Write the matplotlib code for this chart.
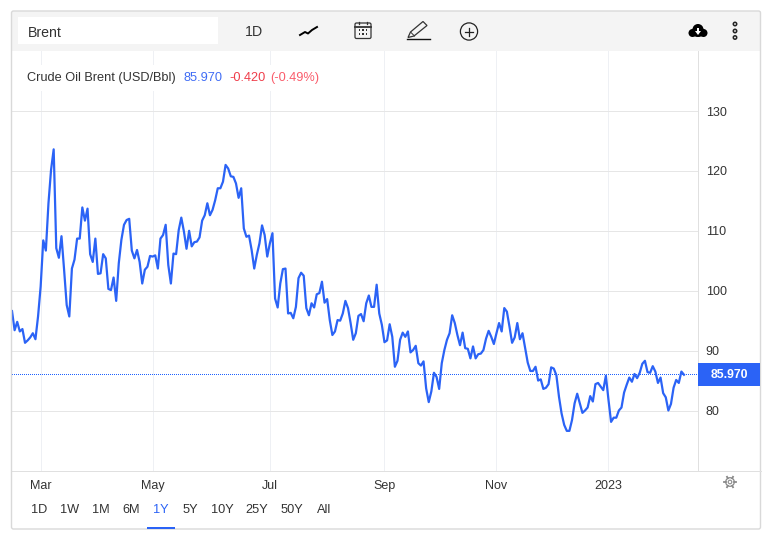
import matplotlib
matplotlib.use("Agg")
import matplotlib.pyplot as plt
from matplotlib.patches import Rectangle, Circle, FancyBboxPatch, Polygon, Ellipse
import numpy as np

plt.rcParams['font.family'] = ['Liberation Sans', 'DejaVu Sans']

# Brent daily close
prices = [
    96.6, 93.4, 94.8, 93.2, 93.6, 91.3, 91.7, 92.2, 92.9, 91.9, 95.7, 100.7, 108.4, 106.7, 114.6, 120.2,
    123.6, 107.1, 105.5, 109.1, 103.5, 97.6, 95.7, 103.7, 105.2, 108.7, 108.7, 113.9, 111.7, 113.7, 106.1, 104.8,
    108.7, 102.8, 102.9, 106.1, 105.4, 100.3, 100.1, 102.2, 98.3, 104.6, 108.5, 111.0, 111.8, 112.0, 106.7, 105.4,
    106.8, 104.8, 101.2, 103.5, 104.0, 105.8, 105.7, 105.9, 103.7, 108.7, 109.3, 111.0, 104.3, 101.2, 106.2, 106.1,
    110.1, 112.2, 109.9, 107.0, 110.0, 107.4, 108.1, 108.2, 108.9, 111.7, 112.6, 114.6, 112.6, 113.5, 115.1, 117.1,
    117.1, 118.2, 121.0, 120.4, 119.1, 119.0, 117.9, 115.5, 117.1, 110.4, 109.0, 109.2,
    106.8, 103.7, 106.0, 107.9, 110.9, 109.3, 105.7, 107.9, 109.6, 98.7, 97.2, 101.2, 103.6, 103.7, 96.2, 96.3,
    95.4, 97.3, 102.1, 103.0, 102.5, 97.1, 95.9, 97.9, 97.2, 99.4, 99.6, 101.5, 98.0, 98.6, 95.1, 92.6,
    93.2, 95.1, 95.0, 96.2, 98.3, 97.1, 94.6, 91.8, 92.9, 95.8, 96.1, 94.9, 97.9, 99.2, 97.3, 97.3,
    101.0, 96.2, 94.3, 91.4, 91.7, 94.4, 92.3, 87.3, 88.3, 91.8, 93.0, 92.3, 93.2, 89.7, 90.1, 90.8,
    87.9, 87.5, 88.2, 83.7, 81.4, 83.2, 86.3, 85.6, 83.6, 87.9, 90.1, 91.8, 92.9, 95.9, 94.6, 92.6,
    90.9, 93.0, 90.4, 90.3, 88.7, 90.7, 88.7, 89.4, 89.5, 90.1, 92.0, 93.3,
    92.3, 91.1, 92.9, 94.6, 93.2, 97.1, 96.5, 94.0, 91.3, 92.2, 94.6, 91.9, 92.9, 90.4, 88.0, 86.6,
    86.6, 87.3, 85.0, 85.2, 83.6, 83.8, 84.4, 87.2, 87.0, 85.9, 82.3, 79.5, 77.6, 76.6, 76.6, 78.4,
    81.2, 82.8, 81.2, 79.6, 80.0, 80.5, 82.4, 81.5, 84.4, 84.6, 84.0, 83.4, 85.8, 81.8, 78.1, 78.8,
    78.8, 80.0, 80.5, 83.0, 84.3, 85.5, 84.8, 86.1, 85.4, 86.3, 87.8, 88.3, 86.4, 86.3, 87.4, 86.5,
    84.6, 85.5, 82.9, 82.2, 80.0, 81.1, 83.8, 85.1, 84.6, 86.5, 85.97,
]
last_price = 85.97
y_ticks = [80, 90, 100, 110, 120, 130]
month_pos = [11, 54, 99, 143, 186, 229]
month_labels = ['Mar', 'May', 'Jul', 'Sep', 'Nov', '2023']
range_labels = ['1D', '1W', '1M', '6M', '1Y', '5Y', '10Y', '25Y', '50Y', 'All']
range_centers = [39, 70, 101, 131, 161, 190, 222, 257, 292, 324]

W, H = 771, 540
BLUE = '#2b63f6'
TEXT = '#333333'
PX = 0.72  # one pixel in points at dpi 100

fig = plt.figure(figsize=(W / 100, H / 100), dpi=100, facecolor='white')

# chart area, placed in pixels
L, R, T, B = 12, 698, 51, 470.5
ax = fig.add_axes([L / W, 1 - B / H, (R - L) / W, (B - T) / H])
step = (684 - L) / (len(prices) - 1)
ax.set_xlim(0, (R - L) / step)
ax.set_ylim(80 + (410.5 - B) / 5.99, 80 + (410.5 - T) / 5.99)

ax.plot(range(len(prices)), prices, color=BLUE, lw=1.6, solid_joinstyle='round', zorder=4)

# dotted last price line, one pixel on and one off
dots = np.arange(0, (R - L) / step, 2 / step)
ax.plot(dots, np.full(len(dots), last_price), ls='none', marker=',', color='#1f62ff', zorder=3)

ax.set_yticks(y_ticks)
ax.set_xticks(month_pos)
ax.set_xticklabels(month_labels)
ax.yaxis.tick_right()
ax.tick_params(axis='y', length=0, pad=5.5, labelsize=9, labelcolor=TEXT)
ax.tick_params(axis='x', length=0, pad=7, labelsize=9, labelcolor=TEXT)
ax.grid(axis='y', color='#e6e6e6', lw=PX, zorder=1)
ax.grid(axis='x', color='#eef0f4', lw=PX, zorder=1)
ax.set_axisbelow(True)
for side in ['top', 'left']:
    ax.spines[side].set_visible(False)
ax.spines['right'].set_color('#e0e0e0')
ax.spines['bottom'].set_color('#e0e0e0')
ax.spines['right'].set_linewidth(PX)
ax.spines['bottom'].set_linewidth(PX)

# overlay in pixel coordinates for the page furniture
ui = fig.add_axes([0, 0, 1, 1], facecolor='none')
ui.set_xlim(0, W)
ui.set_ylim(H, 0)
ui.axis('off')

ui.add_patch(Rectangle((11.5, 11), 749, 40, fc='#f4f4f4', ec='none'))
ui.add_patch(FancyBboxPatch((11.5, 11), 749, 518, boxstyle='round,pad=0,rounding_size=2',
                            fc='none', ec='#d9d9d9', lw=1))
ui.plot([R, 760.5], [B, B], color='#e0e0e0', lw=PX)
ui.add_patch(Rectangle((18, 17), 200, 27, fc='white', ec='none'))
ui.text(28, 33, 'Brent', fontsize=10.2, color=TEXT, va='center')
ui.text(254, 32.5, '1D', fontsize=10.2, color=TEXT, va='center', ha='center')

# chart type icon
ui.plot([300, 305, 308, 312, 317], [35, 32, 33.5, 30, 27], color='black', lw=1.4)

# calendar icon
ui.add_patch(FancyBboxPatch((355, 23), 16, 15.5, boxstyle='round,pad=0,rounding_size=1.5',
                            fc='none', ec='#333333', lw=0.9))
ui.plot([355, 371], [26.5, 26.5], color='#333333', lw=1.3)
ui.plot([359, 359], [21.5, 24], color='#333333', lw=0.9)
ui.plot([367, 367], [21.5, 24], color='#333333', lw=0.9)
for cx in [359.5, 363, 366.5]:
    for cy in [30, 34]:
        ui.add_patch(Rectangle((cx - 0.8, cy - 0.8), 1.6, 1.6, fc='#333333', ec='none'))

# pencil icon
ui.add_patch(Polygon([[408, 37.5], [410.5, 32], [423, 21.5], [427, 25.5], [414, 36]], closed=True,
                     fc='none', ec='#333333', lw=0.9))
ui.plot([407, 430], [38.5, 38.5], color='#111111', lw=1)
ui.plot([411, 414.5], [32.5, 36], color='#333333', lw=0.7)

# add icon
ui.add_patch(Circle((469, 31.5), 8.6, fc='none', ec='#222222', lw=0.9))
ui.plot([465, 473], [31.5, 31.5], color='#222222', lw=0.9)
ui.plot([469, 469], [27.5, 35.5], color='#222222', lw=0.9)

# download cloud
ui.add_patch(Ellipse((698, 32), 14, 10, fc='black', ec='none'))
ui.add_patch(Circle((698, 29.5), 5.5, fc='black', ec='none'))
ui.add_patch(Circle((692.5, 33), 4, fc='black', ec='none'))
ui.add_patch(Circle((703.5, 33), 4, fc='black', ec='none'))
ui.add_patch(Polygon([[695, 31], [701, 31], [698, 35]], closed=True, fc='white', ec='none'))
ui.add_patch(Rectangle((697, 28), 2, 4, fc='white', ec='none'))

# menu dots
for cy in [24, 31, 37.5]:
    ui.add_patch(Circle((735, cy), 1.7, fc='none', ec='#222222', lw=1.1))

# title row, white box hides the grid behind it
ui.add_patch(Rectangle((22, 65), 305, 26, fc='white', ec='none', zorder=1))
ui.text(27, 78, 'Crude Oil Brent (USD/Bbl)', fontsize=9.15, color=TEXT, va='center', zorder=2)
ui.text(183, 78, '85.970', fontsize=9.15, color='#3f6cf5', va='center', zorder=2)
ui.text(229.5, 78, '-0.420', fontsize=9.15, color='#ef3d4a', va='center', zorder=2)
ui.text(270, 78, '(-0.49%)', fontsize=9.15, color='#fa5c6b', va='center', zorder=2)

# last price flag
ui.add_patch(Rectangle((R, 363), 62, 23, fc=BLUE, ec='none'))
ui.text(729.5, 374.5, '85.970', fontsize=8.8, color='white', weight='bold', va='center', ha='center')

# settings gear
ui.add_patch(Circle((730, 482), 4.3, fc='none', ec='#8a8a8a', lw=0.9))
ui.add_patch(Circle((730, 482), 1.8, fc='none', ec='#8a8a8a', lw=0.8))
for a in np.arange(0, 360, 60):
    dx, dy = np.cos(np.radians(a)), np.sin(np.radians(a))
    ui.plot([730 + 4.3 * dx, 730 + 6 * dx], [482 + 4.3 * dy, 482 + 6 * dy], color='#8a8a8a', lw=1.3)

# range selector
for label, cx in zip(range_labels, range_centers):
    ui.text(cx, 510, label, fontsize=9.15, ha='center', va='center',
            color=BLUE if label == '1Y' else TEXT)
ui.add_patch(Rectangle((147, 526.5), 28, 2, fc=BLUE, ec='none'))

fig.savefig('out.png', dpi=100)
